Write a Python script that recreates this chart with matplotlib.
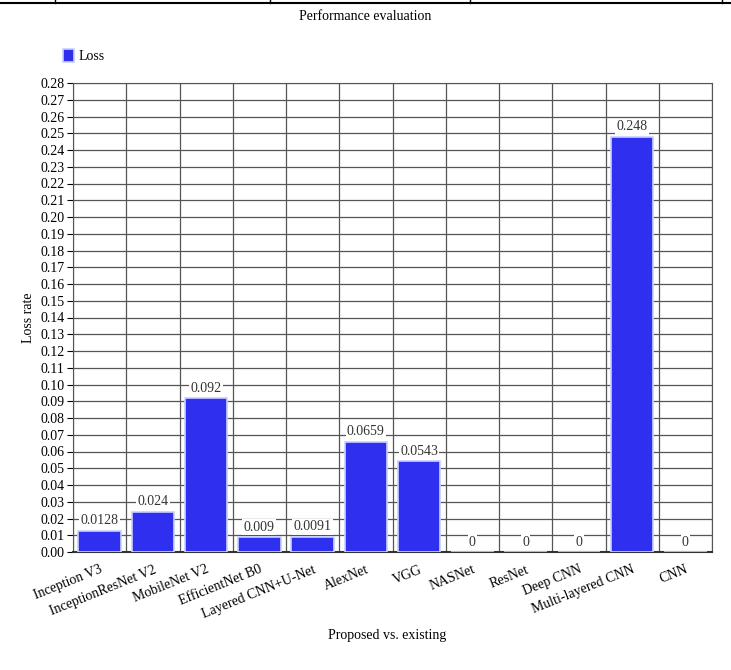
import matplotlib.pyplot as plt
import numpy as np
from matplotlib.lines import Line2D

models = ["Inception V3", "InceptionResNet V2", "MobileNet V2", "EfficientNet B0",
          "Layered CNN+U-Net", "AlexNet", "VGG", "NASNet", "ResNet", "Deep CNN",
          "Multi-layered CNN", "CNN"]
loss = [0.0128, 0.024, 0.092, 0.009, 0.0091, 0.0659, 0.0543, 0, 0, 0, 0.248, 0]
loss_labels = ["0.0128", "0.024", "0.092", "0.009", "0.0091", "0.0659", "0.0543",
               "0", "0", "0", "0.248", "0"]
yticks = np.arange(0, 0.281, 0.01)

plt.rcParams['font.family'] = ['Liberation Serif', 'DejaVu Serif']

fig = plt.figure(figsize=(7.31, 6.7), dpi=100)
ax = fig.add_axes([73/731, 1-552/670, (712-73)/731, (552-83)/670])

x = np.arange(len(models))
bars = ax.bar(x, loss, width=0.8, color='#2f2ff0', edgecolor='#c8d0ff', linewidth=1.2,
              label='Loss', zorder=3)

for xi, v, lab in zip(x, loss, loss_labels):
    ax.text(xi, v + 0.002, lab, ha='center', va='bottom', fontsize=10, color='#333333',
            bbox=dict(facecolor='white', edgecolor='none', pad=1), zorder=4)

ax.set_xlim(-0.5, len(models) - 0.5)
ax.set_ylim(0, 0.28)
ax.set_yticks(yticks)
ax.set_yticklabels([f"{t:.2f}" for t in yticks], fontsize=10)
ax.set_xticks(x)
ax.set_xticklabels(models, rotation=22, ha='right', rotation_mode='anchor', fontsize=10)
ax.tick_params(axis='x', length=0, pad=8)
ax.tick_params(axis='y', length=4, pad=2)

# grid: horizontal at each tick, vertical at category boundaries
ax.set_xticks(np.arange(-0.5, len(models), 1), minor=True)
ax.grid(axis='y', which='major', color='#555555', linewidth=0.9, zorder=0)
ax.grid(axis='x', which='minor', color='#555555', linewidth=0.9, zorder=0)
ax.tick_params(axis='x', which='minor', length=0)
for s in ['top', 'right', 'left']:
    ax.spines[s].set_color('#555555')
ax.spines['bottom'].set_color('#333333')
ax.spines['bottom'].set_linewidth(1.5)

ax.set_ylabel("Loss rate", fontsize=10, labelpad=4)
fig.text(387/731, 1-636/670, "Proposed vs. existing", ha='center', va='center', fontsize=10)
fig.text(0.5, 1-16/670, "Performance evaluation", ha='center', va='center', fontsize=10)

ax.legend(loc='lower left', bbox_to_anchor=(-0.035, 1.015), frameon=False, fontsize=10,
          handlelength=0.8, handleheight=1.0, handletextpad=0.3)

# table border line at top
fig.add_artist(Line2D([0, 1], [1-3/670, 1-3/670], color='black', linewidth=1.5))
for px in [55, 270, 470, 722]:
    fig.add_artist(Line2D([px/731, px/731], [1-3/670, 1], color='black', linewidth=1))

fig.savefig("out.png", dpi=100)
